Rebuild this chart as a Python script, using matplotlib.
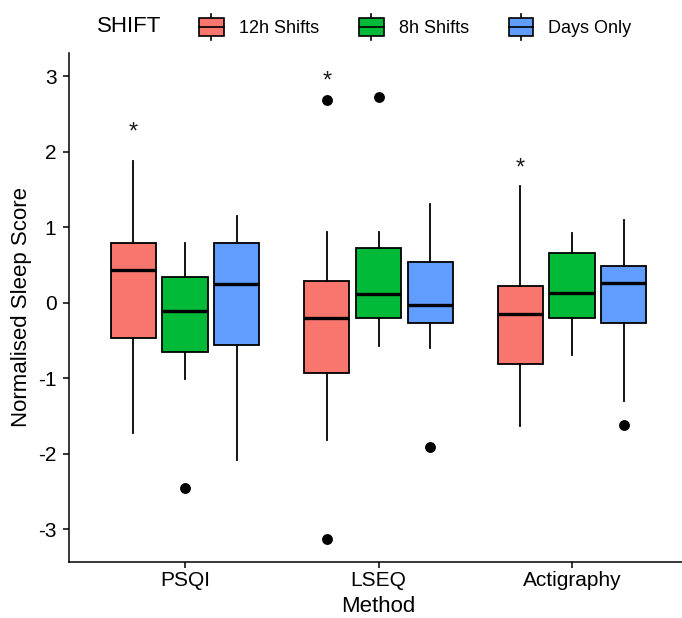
import matplotlib
matplotlib.use("Agg")
import matplotlib.pyplot as plt
from matplotlib.legend_handler import HandlerBase
from matplotlib.patches import Rectangle, Patch
from matplotlib.lines import Line2D

plt.rcParams['font.family'] = ['Liberation Sans', 'DejaVu Sans']

# Dados
methods = ['PSQI', 'LSEQ', 'Actigraphy']
shifts = ['12h Shifts', '8h Shifts', 'Days Only']
colors = ['#F8766D', '#00BA38', '#619CFF']

# 12h Shifts
med_12h = [0.43, -0.20, -0.15]
q1_12h = [-0.47, -0.935, -0.81]
q3_12h = [0.795, 0.29, 0.22]
lo_12h = [-1.73, -1.82, -1.64]
hi_12h = [1.87, 0.93, 1.54]
out_12h = [[], [2.68, -3.13], []]

# 8h Shifts
med_8h = [-0.11, 0.12, 0.13]
q1_8h = [-0.65, -0.20, -0.20]
q3_8h = [0.34, 0.73, 0.66]
lo_8h = [-1.01, -0.58, -0.69]
hi_8h = [0.79, 0.93, 0.92]
out_8h = [[-2.46], [2.73], []]

# Days Only
med_days = [0.25, -0.03, 0.26]
q1_days = [-0.56, -0.265, -0.27]
q3_days = [0.795, 0.54, 0.49]
lo_days = [-2.09, -0.60, -1.31]
hi_days = [1.15, 1.31, 1.10]
out_days = [[], [-1.91], [-1.62]]

# asteriscos (sobre 12h Shifts)
sig_methods = ['PSQI', 'LSEQ', 'Actigraphy']
sig_y = [2.33, 3.0, 1.85]

groups = [
    (med_12h, q1_12h, q3_12h, lo_12h, hi_12h, out_12h),
    (med_8h, q1_8h, q3_8h, lo_8h, hi_8h, out_8h),
    (med_days, q1_days, q3_days, lo_days, hi_days, out_days),
]

dodge = 0.267
box_w = 0.234


class BoxKey(HandlerBase):
    # chave da legenda em forma de boxplot
    def create_artists(self, legend, orig_handle, xdescent, ydescent,
                       width, height, fontsize, trans):
        x0, y0 = -xdescent, -ydescent
        cx = x0 + width / 2
        bh = height * 0.65
        by = y0 + (height - bh) / 2
        top = Line2D([cx, cx], [by + bh, y0 + height], color='black', lw=1.2, transform=trans)
        bot = Line2D([cx, cx], [y0, by], color='black', lw=1.2, transform=trans)
        rect = Rectangle((x0, by), width, bh, facecolor=orig_handle.get_facecolor(),
                         edgecolor='black', lw=1.2, transform=trans)
        med = Line2D([x0, x0 + width], [by + bh / 2] * 2, color='black', lw=1.2, transform=trans)
        return [top, bot, rect, med]


fig = plt.figure(figsize=(6.82, 6.18), dpi=100)
ax = fig.add_axes([69 / 682, (618 - 561.5) / 618, 619 / 682, (561.5 - 52.8) / 618])

for k, (med, q1, q3, lo, hi, out) in enumerate(groups):
    stats = []
    for i in range(len(methods)):
        stats.append(dict(med=med[i], q1=q1[i], q3=q3[i], whislo=lo[i],
                          whishi=hi[i], fliers=out[i]))
    pos = [i + 1 + (k - 1) * dodge for i in range(len(methods))]
    ax.bxp(stats, positions=pos, widths=box_w, patch_artist=True, showcaps=False,
           boxprops=dict(facecolor=colors[k], edgecolor='black', linewidth=1.3),
           medianprops=dict(color='black', linewidth=2.4),
           whiskerprops=dict(color='black', linewidth=1.3),
           flierprops=dict(marker='o', markerfacecolor='black', markeredgecolor='black',
                           markersize=6.8))

for m, y in zip(sig_methods, sig_y):
    x = methods.index(m) + 1 - dodge
    ax.annotate('*', (x, y), xytext=(0, -4), textcoords='offset points',
                ha='center', va='center', fontsize=17, color='#1a1a1a')

ax.set_xlim(0.4, 3.6)
ax.set_ylim(-3.43, 3.31)
ax.set_xticks([1, 2, 3])
ax.set_xticklabels(methods)
ax.set_yticks([-3, -2, -1, 0, 1, 2, 3])
ax.set_yticklabels(['-3', '-2', '-1', '0', '1', '2', '3'])
ax.tick_params(axis='both', labelsize=15, length=4, width=1.1, colors='black')
ax.tick_params(axis='x', pad=3)
ax.tick_params(axis='y', pad=5)
for s in ['top', 'right']:
    ax.spines[s].set_visible(False)
for s in ['left', 'bottom']:
    ax.spines[s].set_linewidth(1.1)
ax.set_xlabel('Method', fontsize=16)
ax.set_ylabel('Normalised Sleep Score', fontsize=16)
ax.xaxis.set_label_coords(0.5, -0.068)
ax.yaxis.set_label_coords(-0.06, 0.5)

# legenda no topo
handles = [Patch(facecolor=c) for c in colors]
fig.text(97 / 682, 1 - 26 / 618, 'SHIFT', fontsize=16, ha='left', va='center')
fig.legend(handles, shifts, loc='center left', bbox_to_anchor=(199 / 682, 1 - 27 / 618),
           ncol=3, frameon=False, fontsize=13, borderpad=0, borderaxespad=0,
           handlelength=1.38, handleheight=1.88, handletextpad=0.83, columnspacing=2.2,
           handler_map={Patch: BoxKey()})

plt.savefig('out.png', dpi=100)
